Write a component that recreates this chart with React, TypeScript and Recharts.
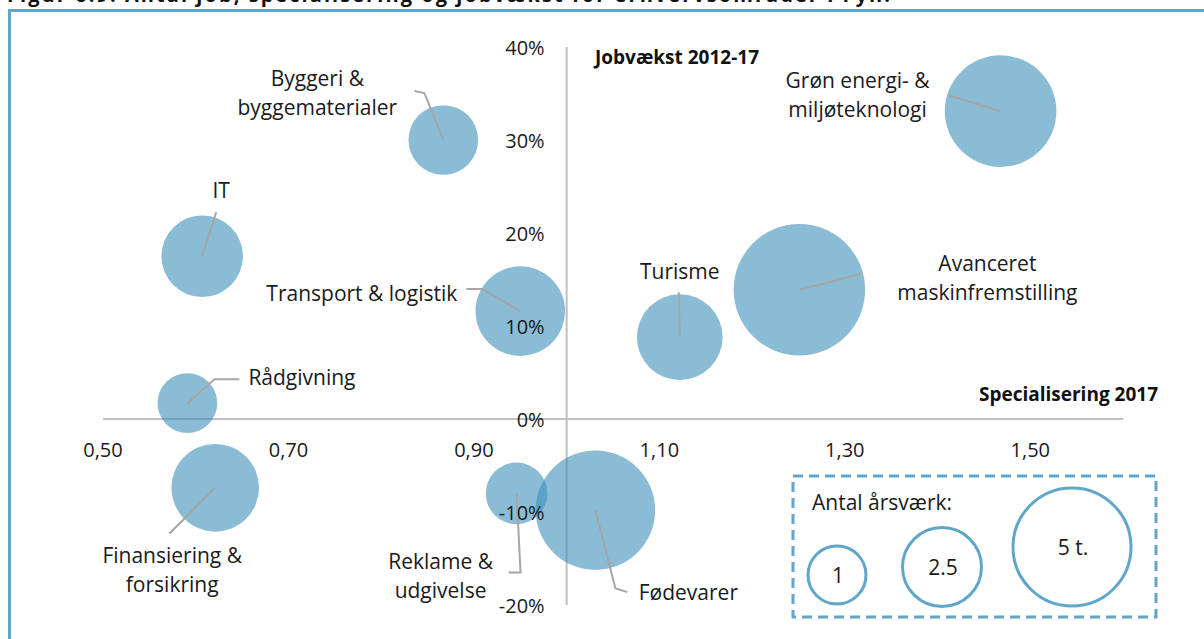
import { ScatterChart, Scatter, XAxis, YAxis, ZAxis, ReferenceLine, ReferenceDot } from "recharts";

const names = [
  "Byggeri & byggematerialer",
  "Grøn energi- & miljøteknologi",
  "IT",
  "Transport & logistik",
  "Turisme",
  "Avanceret maskinfremstilling",
  "Rådgivning",
  "Finansiering & forsikring",
  "Reklame & udgivelse",
  "Fødevarer",
];
const labelLines = [
  ["Byggeri &", "byggematerialer"],
  ["Grøn energi- &", "miljøteknologi"],
  ["IT"],
  ["Transport & logistik"],
  ["Turisme"],
  ["Avanceret", "maskinfremstilling"],
  ["Rådgivning"],
  ["Finansiering &", "forsikring"],
  ["Reklame &", "udgivelse"],
  ["Fødevarer"],
];
// specialisering 2017 (x), jobvækst 2012-17 (y), antal årsværk i tusinder (z)
const specialisation = [0.867, 1.468, 0.607, 0.95, 1.122, 1.251, 0.591, 0.621, 0.946, 1.031];
const growth = [0.3, 0.331, 0.175, 0.116, 0.088, 0.139, 0.017, -0.074, -0.08, -0.098];
const jobs = [1.7, 4.36, 2.33, 2.81, 2.57, 6.05, 1.25, 2.69, 1.33, 5.0];

const xTicks = [0.5, 0.7, 0.9, 1.1, 1.3, 1.5];
const yTicks = [-0.2, -0.1, 0, 0.1, 0.2, 0.3, 0.4];
const legendLabels = ["1", "2.5", "5 t."];

// label placement relative to the bubble centre (pixels)
const labelLayout = [
  { dx: -126, dy: -62, anchor: "middle", path: [[-19, -47], [-29, -49]] },
  { dx: -143, dy: -31, anchor: "middle", path: [[-52, -16]] },
  { dx: 19, dy: -66, anchor: "middle", path: [[14, -44]] },
  { dx: -63, dy: -18, anchor: "end", path: [[-38, -22], [-54, -22]] },
  { dx: 0, dy: -66, anchor: "middle", path: [[-1, -45]] },
  { dx: 188, dy: -27, anchor: "middle", path: [[62, -16]] },
  { dx: 61, dy: -26, anchor: "start", path: [[27, -24], [52, -24]] },
  { dx: -43, dy: 67, anchor: "middle", path: [[-46, 46]] },
  { dx: -76, dy: 68, anchor: "middle", path: [[4, 79], [-8, 79]] },
  { dx: 93, dy: 82, anchor: "middle", path: [[20, 78], [32, 82]] },
];

const data = names.map((name, i) => ({
  idx: i,
  name,
  lines: labelLines[i],
  x: specialisation[i],
  y: growth[i],
  z: jobs[i],
}));

const FONT = "'Open Sans', sans-serif";
const BLUE = "#5fa6ca";
const TEXT = "#1a1a1a";

function LeaderLabel(props: any) {
  const { cx, cy, payload } = props;
  const lay = labelLayout[payload.idx];
  const pts = [[0, 0], ...lay.path].map(([dx, dy]) => `${cx + dx},${cy + dy}`).join(" ");
  return (
    <g>
      <polyline points={pts} fill="none" stroke="#a6a6a6" strokeWidth={2} />
      {payload.lines.map((l: string, i: number) => (
        <text
          key={i}
          x={cx + lay.dx}
          y={cy + lay.dy + i * 29}
          textAnchor={lay.anchor}
          dominantBaseline="central"
          fontSize={21}
          fontFamily={FONT}
          fill={TEXT}
        >
          {l}
        </text>
      ))}
    </g>
  );
}

function SizeLegend() {
  const circles = [
    { cx: 837, cy: 575, r: 29 },
    { cx: 942, cy: 567, r: 39.5 },
    { cx: 1072, cy: 547, r: 59 },
  ];
  return (
    <svg width={1204} height={639} style={{ position: "absolute", left: 0, top: 0, pointerEvents: "none" }}>
      <rect x={793} y={476} width={363} height={141} fill="none" stroke={BLUE} strokeWidth={3} strokeDasharray="10 6" />
      <text x={812} y={502} dominantBaseline="central" fontSize={21} fontFamily={FONT} fill={TEXT}>
        Antal årsværk:
      </text>
      {legendLabels.map((lab, i) => (
        <g key={lab}>
          <circle cx={circles[i].cx} cy={circles[i].cy} r={circles[i].r} fill="none" stroke={BLUE} strokeWidth={3} />
          <text
            x={circles[i].cx + 1}
            y={circles[i].cy}
            textAnchor="middle"
            dominantBaseline="central"
            fontSize={21}
            fontFamily={FONT}
            fill={TEXT}
          >
            {lab}
          </text>
        </g>
      ))}
    </svg>
  );
}

export default function App() {
  return (
    <div style={{ position: "relative", width: 1204, height: 639, overflow: "hidden", background: "#fff", fontFamily: FONT }}>
      <style>{"body{margin:0}"}</style>
      <svg width={1204} height={30} style={{ position: "absolute", left: 0, top: 0 }}>
        <text x={7} y={2} fontSize={20} fontWeight={700} fontFamily={FONT} fill="#111" textLength={883}>
          Figur 6.9: Antal job, specialisering og jobvækst for erhvervsområder i Fyn.
        </text>
      </svg>
      <div
        style={{
          position: "absolute",
          left: 8,
          top: 9,
          width: 1300,
          height: 700,
          borderTop: `3px solid ${BLUE}`,
          borderLeft: `3px solid ${BLUE}`,
        }}
      />
      <div style={{ position: "absolute", left: 0, top: 0 }}>
        <ScatterChart width={1204} height={639} margin={{ top: 47, right: 81, bottom: 34, left: 103 }}>
          <XAxis type="number" dataKey="x" domain={[0.5, 1.6]} hide />
          <YAxis type="number" dataKey="y" domain={[-0.2, 0.4]} hide />
          <ZAxis type="number" dataKey="z" domain={[0, 6]} range={[0, 13572]} />
          <ReferenceLine y={0} stroke="#bfbfbf" strokeWidth={2} />
          <ReferenceLine x={1} stroke="#bfbfbf" strokeWidth={2} />
          <Scatter data={data} fill="#3d8fbb" fillOpacity={0.6} isAnimationActive={false} />
          <Scatter data={data} shape={LeaderLabel} isAnimationActive={false} />
          {xTicks.map((t) => (
            <ReferenceDot
              key={"x" + t}
              x={t}
              y={0}
              r={0}
              shape={(p: any) => (
                <text x={p.cx} y={p.cy + 30} textAnchor="middle" dominantBaseline="central" fontSize={20} fontFamily={FONT} fill={TEXT}>
                  {t.toFixed(2).replace(".", ",")}
                </text>
              )}
            />
          ))}
          {yTicks.map((t) => (
            <ReferenceDot
              key={"y" + t}
              x={1}
              y={t}
              r={0}
              shape={(p: any) => (
                <text x={p.cx - 22} y={p.cy} textAnchor="end" dominantBaseline="central" fontSize={20} fontFamily={FONT} fill={TEXT}>
                  {Math.round(t * 100) + "%"}
                </text>
              )}
            />
          ))}
        </ScatterChart>
      </div>
      <div style={{ position: "absolute", left: 595, top: 44, fontSize: 19, fontWeight: 700, color: "#111" }}>Jobvækst 2012-17</div>
      <div style={{ position: "absolute", right: 46, top: 381, fontSize: 19, fontWeight: 700, color: "#111" }}>Specialisering 2017</div>
      <SizeLegend />
    </div>
  );
}
